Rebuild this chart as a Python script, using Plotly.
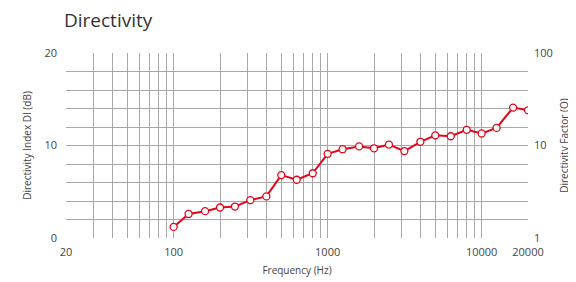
import plotly.graph_objects as go

freqs = [100, 125, 160, 200, 250, 315, 400, 500, 630, 800, 1000, 1250, 1600, 2000,
         2500, 3150, 4000, 5000, 6300, 8000, 10000, 12500, 16000, 20000]
di_db = [1.2, 2.6, 2.9, 3.3, 3.4, 4.1, 4.5, 6.8, 6.3, 7.0, 9.1, 9.6, 9.9, 9.7,
         10.1, 9.4, 10.4, 11.1, 11.0, 11.7, 11.3, 11.9, 14.1, 13.8]

x_labels = {20: "20", 100: "100", 1000: "1000", 10000: "10000", 20000: "20000"}
x_grid = [m * 10 ** e for e in range(1, 5) for m in range(1, 10) if 20 <= m * 10 ** e <= 20000]
y_grid = list(range(0, 21, 2))
y_labels = {0: "0", 10: "10", 20: "20"}
q_ticks = [1, 10, 100]

red = "#e3061a"
grid = "#a8a8a8"
font = "Open Sans"

# page body has an 8px margin, so the figure is sized/placed to compensate
W, H = 568, 274

fig = go.Figure()
fig.add_trace(go.Scatter(
    x=freqs, y=di_db, mode="lines+markers",
    line=dict(color=red, width=2),
    marker=dict(symbol="circle", size=7, color="white", line=dict(color=red, width=1.3)),
    showlegend=False, hoverinfo="x+y",
))
# invisible trace to activate secondary axis
fig.add_trace(go.Scatter(x=[20, 20000], y=[1, 100], yaxis="y2", mode="markers",
                         marker=dict(opacity=0), showlegend=False, hoverinfo="skip"))

fig.update_layout(
    width=W, height=H,
    margin=dict(l=58, r=48, t=45, b=44, autoexpand=False),
    paper_bgcolor="white", plot_bgcolor="white",
    font=dict(family=font, color="#444", size=11),
    title=dict(text="Directivity", x=56 / W, xanchor="left", y=1 - 12 / H, yanchor="middle",
               font=dict(family=font, size=19, color="#333")),
    xaxis=dict(type="log", range=[1.30103, 4.30103], automargin=False,
               tickvals=x_grid, ticktext=[x_labels.get(v, "") for v in x_grid],
               showgrid=True, gridcolor=grid, gridwidth=1,
               showline=False, zeroline=False, ticks="", ticklabelstandoff=6,
               tickfont=dict(size=11, color="#444"),
               title=dict(text="Frequency (Hz)", font=dict(size=10, color="#444"), standoff=8)),
    yaxis=dict(range=[0, 20], tickvals=y_grid, ticktext=[y_labels.get(v, "") for v in y_grid],
               automargin=False,
               showgrid=True, gridcolor=grid, gridwidth=1, zeroline=False, showline=False,
               ticks="", ticklabelstandoff=8, tickfont=dict(size=11, color="#444"),
               title=dict(text="Directivity Index DI (dB)", font=dict(size=10, color="#444"), standoff=10)),
    yaxis2=dict(type="log", range=[0, 2], overlaying="y", side="right", automargin=False,
                tickvals=q_ticks, ticktext=[str(v) for v in q_ticks],
                showgrid=False, zeroline=False, showline=False, ticks="", ticklabelstandoff=5,
                tickfont=dict(size=11, color="#444"),
                title=dict(text="Directivity Factor (Q)", font=dict(size=10, color="#444"), standoff=9)),
)

fig.write_html("out.html")
